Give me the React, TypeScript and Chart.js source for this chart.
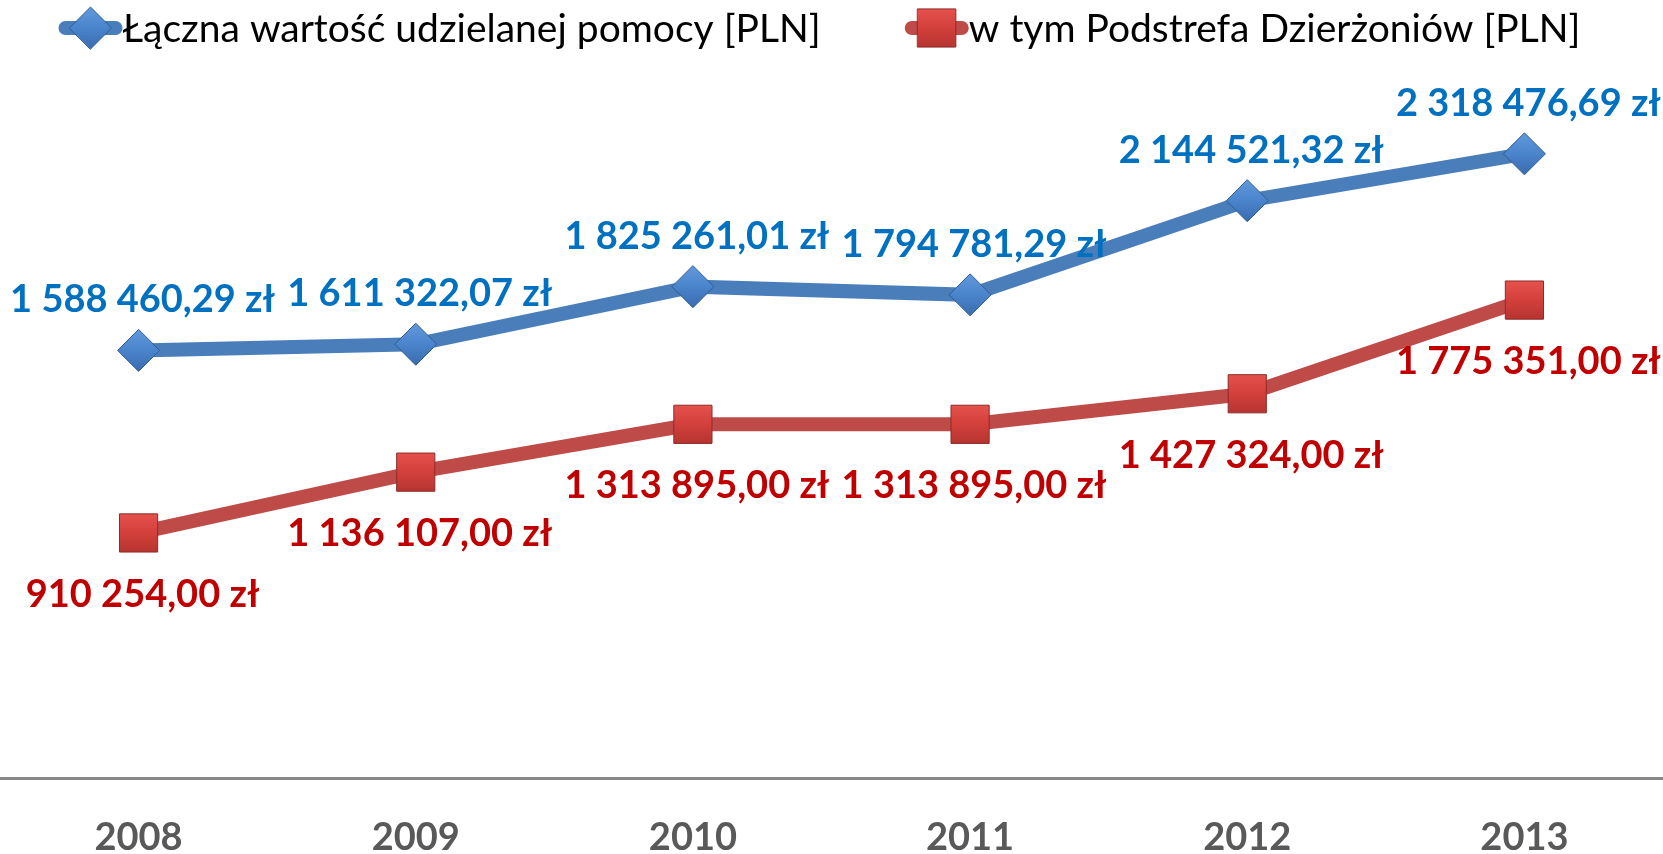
import React, { useEffect, useRef } from 'react';
import { Chart, registerables } from 'chart.js';

Chart.register(...registerables);

// ---- data ----
const years: string[] = ['2008', '2009', '2010', '2011', '2012', '2013'];
const totalAid: number[] = [1588460.29, 1611322.07, 1825261.01, 1794781.29, 2144521.32, 2318476.69];
const dzierzoniowAid: number[] = [910254.0, 1136107.0, 1313895.0, 1313895.0, 1427324.0, 1775351.0];
const seriesNames: string[] = ['Łączna wartość udzielanej pomocy [PLN]', 'w tym Podstrefa Dzierżoniów [PLN]'];
const labelColors: string[] = ['#0070C0', '#C00000'];
const lineColors: string[] = ['#4A7EBB', '#BE4B48'];
const markerLight: string[] = ['#6199DB', '#E5524D'];
const markerMid: string[] = ['#4A84CB', '#D3403B'];
const markerDark: string[] = ['#3A6BAE', '#B63430'];
const markerBorders: string[] = ['#2E5C96', '#8E2B28'];
const yMax = 2500000;

const FONT = 'Lato, "Open Sans", "Noto Sans", sans-serif';

const formatPLN = (v: number): string => {
  const [i, d] = v.toFixed(2).split('.');
  const grouped = i.replace(/\B(?=(\d{3})+(?!\d))/g, ' ');
  return `${grouped},${d} zł`;
};

function markerGradient(ctx: CanvasRenderingContext2D, y: number, r: number, di: number) {
  const g = ctx.createLinearGradient(0, y - r, 0, y + r);
  g.addColorStop(0, markerLight[di]);
  g.addColorStop(0.5, markerMid[di]);
  g.addColorStop(1, markerDark[di]);
  return g;
}

function pointFill(di: number, r: number) {
  return (c: any) => {
    const chart = c.chart;
    const ys = chart.scales && chart.scales.y;
    if (!ys || c.type !== 'data' || c.parsed == null) return markerMid[di];
    const y = ys.getPixelForValue(c.parsed.y);
    if (!Number.isFinite(y)) return markerMid[di];
    return markerGradient(chart.ctx, y, r, di);
  };
}

function drawMarker(ctx: CanvasRenderingContext2D, style: string, x: number, y: number, r: number, di: number) {
  ctx.beginPath();
  if (style === 'rectRot') {
    ctx.moveTo(x - r, y);
    ctx.lineTo(x, y - r);
    ctx.lineTo(x + r, y);
    ctx.lineTo(x, y + r);
  } else {
    const s = Math.SQRT1_2 * r;
    ctx.moveTo(x - s, y - s);
    ctx.lineTo(x + s, y - s);
    ctx.lineTo(x + s, y + s);
    ctx.lineTo(x - s, y + s);
  }
  ctx.closePath();
  ctx.fillStyle = markerGradient(ctx, y, style === 'rectRot' ? r : Math.SQRT1_2 * r, di);
  ctx.fill();
  ctx.lineWidth = 1;
  ctx.strokeStyle = markerBorders[di];
  ctx.stroke();
}

const valueLabelsPlugin = {
  id: 'valueLabels',
  afterDatasetsDraw(chart: any) {
    const ctx: CanvasRenderingContext2D = chart.ctx;
    ctx.save();
    ctx.font = `bold 38px ${FONT}`;
    ctx.textAlign = 'center';
    ctx.textBaseline = 'alphabetic';
    chart.data.datasets.forEach((ds: any, di: number) => {
      const meta = chart.getDatasetMeta(di);
      meta.data.forEach((pt: any, i: number) => {
        const v = ds.data[i] as number;
        ctx.fillStyle = labelColors[di];
        const y = di === 0 ? pt.y - 38 : pt.y + 74;
        ctx.fillText(formatPLN(v), pt.x + 4, y);
      });
    });
    ctx.restore();
  },
};

const lineLegendPlugin = {
  id: 'lineLegend',
  afterDraw(chart: any) {
    const ctx: CanvasRenderingContext2D = chart.ctx;
    ctx.save();
    ctx.font = `39px ${FONT}`;
    const markerW = 64;
    const gap = 84;
    const widths = chart.data.datasets.map((d: any) => ctx.measureText(d.label).width);
    const total = widths.reduce((a: number, b: number) => a + b, 0) + markerW * 2 + gap;
    let x = chart.width / 2 - 12 - total / 2;
    const cy = 28;
    chart.data.datasets.forEach((ds: any, di: number) => {
      ctx.strokeStyle = ds.borderColor;
      ctx.lineWidth = 14;
      ctx.lineCap = 'round';
      ctx.beginPath();
      ctx.moveTo(x + 7, cy);
      ctx.lineTo(x + markerW - 7, cy);
      ctx.stroke();
      drawMarker(ctx, ds.pointStyle, x + markerW / 2, cy, ds.pointRadius, di);
      ctx.fillStyle = '#000000';
      ctx.textBaseline = 'alphabetic';
      ctx.textAlign = 'left';
      ctx.fillText(ds.label, x + markerW, cy + 14);
      x += markerW + widths[di] + gap;
    });
    ctx.restore();
  },
};

export default function App() {
  const canvasRef = useRef<HTMLCanvasElement | null>(null);

  useEffect(() => {
    if (!canvasRef.current) return;
    const chart = new Chart(canvasRef.current, {
      type: 'line',
      data: {
        labels: years,
        datasets: [
          {
            label: seriesNames[0],
            data: totalAid,
            borderColor: lineColors[0],
            borderWidth: 14,
            pointStyle: 'rectRot',
            pointRadius: 21,
            pointBackgroundColor: pointFill(0, 21),
            pointBorderColor: markerBorders[0],
            pointBorderWidth: 1,
            tension: 0,
            clip: false,
          } as any,
          {
            label: seriesNames[1],
            data: dzierzoniowAid,
            borderColor: lineColors[1],
            borderWidth: 14,
            pointStyle: 'rect',
            pointRadius: 27,
            pointBackgroundColor: pointFill(1, 27 * Math.SQRT1_2),
            pointBorderColor: markerBorders[1],
            pointBorderWidth: 1,
            tension: 0,
            clip: false,
          } as any,
        ],
      },
      options: {
        animation: false,
        responsive: true,
        maintainAspectRatio: false,
        events: [],
        layout: { autoPadding: false, padding: { top: 105, left: 0, right: 0, bottom: 0 } },
        plugins: {
          legend: { display: false },
          tooltip: { enabled: false },
        },
        scales: {
          x: {
            offset: true,
            grid: { display: false, drawTicks: false },
            border: { display: true, color: '#888888', width: 3 },
            ticks: {
              color: '#595959',
              padding: 41,
              font: { family: FONT, size: 38, weight: 'bold', lineHeight: 1.0 },
            },
            afterFit: (scale: any) => {
              scale.height = 76;
            },
          },
          y: {
            display: false,
            min: 0,
            max: yMax,
          },
        },
      },
      plugins: [valueLabelsPlugin, lineLegendPlugin],
    });
    return () => chart.destroy();
  }, []);

  return (
    <div style={{ position: 'fixed', left: 0, top: 0, width: 1663, height: 854, background: '#ffffff' }}>
      <canvas ref={canvasRef} />
    </div>
  );
}
